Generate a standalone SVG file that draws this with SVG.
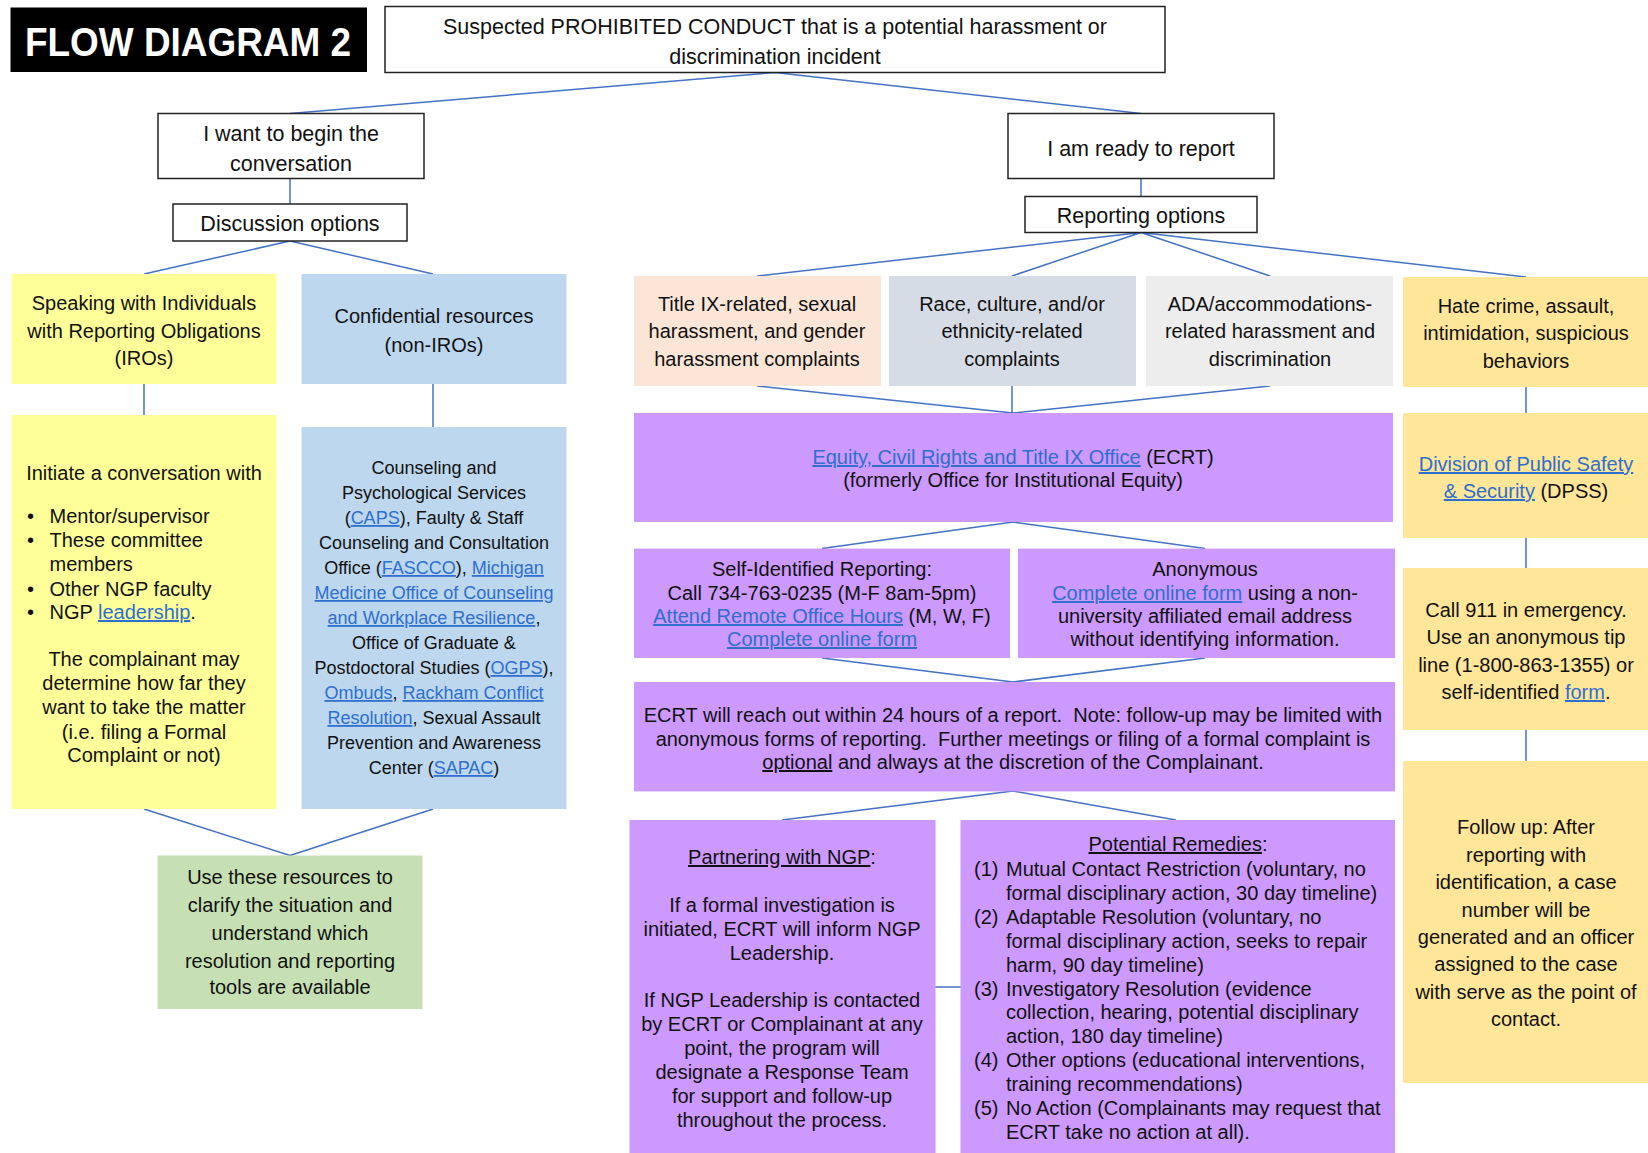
<svg xmlns="http://www.w3.org/2000/svg" width="1648" height="1153" viewBox="0 0 1648 1153">
<style>
text{font-family:"Liberation Sans",Arial,sans-serif;font-size:20px;fill:#111;text-anchor:middle}
.h{font-size:21.5px}
.s{font-size:18px}
.lft{text-anchor:start}
.l{fill:#2e6fd0;text-decoration:underline}
.u{text-decoration:underline}
.c{stroke:#4472c4;stroke-width:1.5;fill:none}
.bx{fill:#fff;stroke:#222;stroke-width:1.5}
.yel{fill:#ffff99}.blu{fill:#bdd7ee}.grn{fill:#c6e0b4}.pch{fill:#fbe5d6}.gry{fill:#d6dce5}.lgr{fill:#ededed}.gld{fill:#ffe699}.pur{fill:#cc99ff}
</style>
<rect width="1648" height="1153" fill="#fff"/>
<g id="connectors">
<path class="c" d="M775,72.5L290,113.5M775,72.5L1141,113.5"/>
<path class="c" d="M290,179V204M290,241L144,274M290,241L433,274M144,384V415M433,384V427M144,809L290,855.5M433,809L290,855.5"/>
<path class="c" d="M1141,179V196.5M1141,232.5L757,276M1141,232.5L1012,276M1141,232.5L1270,276M1141,232.5L1526,277"/>
<path class="c" d="M757,386L1013,413M1012,386V413M1270,386L1013,413"/>
<path class="c" d="M1013,522L822,548.6M1013,522L1205,548.6M822,658L1013,682M1205,658L1013,682"/>
<path class="c" d="M1013,791L782,820M1013,791L1176,820M935,987H961"/>
<path class="c" d="M1526,387V413M1526,538V568M1526,730V761"/>
</g>
<g id="title">
<rect x="10.5" y="7.5" width="356.5" height="64.5" fill="#000"/>
<text x="188" y="56" style="font-size:41px;font-weight:bold;fill:#fff" textLength="326" lengthAdjust="spacingAndGlyphs">FLOW DIAGRAM 2</text>
</g>
<g id="n-suspected">
<rect class="bx" x="385" y="6.5" width="780" height="66"/>
<text class="h" x="775" y="34">Suspected PROHIBITED CONDUCT that is a potential harassment or</text>
<text class="h" x="775" y="64">discrimination incident</text>
</g>
<g id="n-begin">
<rect class="bx" x="158" y="113.5" width="266" height="65"/>
<text class="h" x="291" y="141">I want to begin the</text>
<text class="h" x="291" y="171">conversation</text>
</g>
<g id="n-discussion">
<rect class="bx" x="173" y="204" width="234" height="37"/>
<text class="h" x="290" y="231">Discussion options</text>
</g>
<g id="n-ready">
<rect class="bx" x="1008" y="113.5" width="266" height="65"/>
<text class="h" x="1141" y="156">I am ready to report</text>
</g>
<g id="n-reporting">
<rect class="bx" x="1025" y="196.5" width="232" height="36"/>
<text class="h" x="1141" y="223">Reporting options</text>
</g>
<g id="n-iros">
<rect class="yel" x="11.5" y="274" width="265" height="110"/>
<text x="144" y="309.5">Speaking with Individuals</text>
<text x="144" y="338">with Reporting Obligations</text>
<text x="144" y="365">(IROs)</text>
</g>
<g id="n-confidential">
<rect class="blu" x="301.5" y="274" width="265" height="110"/>
<text x="434" y="323">Confidential resources</text>
<text x="434" y="352">(non-IROs)</text>
</g>
<g id="n-initiate">
<rect class="yel" x="11.5" y="415" width="265" height="394"/>
<text x="144" y="480">Initiate a conversation with</text>
<text class="lft" x="27" y="523">•</text><text class="lft" x="49.5" y="523">Mentor/supervisor</text>
<text class="lft" x="27" y="547">•</text><text class="lft" x="49.5" y="547">These committee</text>
<text class="lft" x="49.5" y="571">members</text>
<text class="lft" x="27" y="595.5">•</text><text class="lft" x="49.5" y="595.5">Other NGP faculty</text>
<text class="lft" x="27" y="619">•</text><text class="lft" x="49.5" y="619">NGP <tspan class="l">leadership</tspan>.</text>
<text x="144" y="666">The complainant may</text>
<text x="144" y="690">determine how far they</text>
<text x="144" y="714">want to take the matter</text>
<text x="144" y="738.5">(i.e. filing a Formal</text>
<text x="144" y="762">Complaint or not)</text>
</g>
<g id="n-counseling">
<rect class="blu" x="301.5" y="427" width="265" height="382"/>
<text class="s" x="434" y="474">Counseling and</text>
<text class="s" x="434" y="499">Psychological Services</text>
<text class="s" x="434" y="524">(<tspan class="l">CAPS</tspan>), Faulty &amp; Staff</text>
<text class="s" x="434" y="549">Counseling and Consultation</text>
<text class="s" x="434" y="574">Office (<tspan class="l">FASCCO</tspan>), <tspan class="l">Michigan</tspan></text>
<text class="s" x="434" y="599"><tspan class="l">Medicine Office of Counseling</tspan></text>
<text class="s" x="434" y="624"><tspan class="l">and Workplace Resilience</tspan>,</text>
<text class="s" x="434" y="649">Office of Graduate &amp;</text>
<text class="s" x="434" y="674">Postdoctoral Studies (<tspan class="l">OGPS</tspan>),</text>
<text class="s" x="434" y="699"><tspan class="l">Ombuds</tspan>, <tspan class="l">Rackham Conflict</tspan></text>
<text class="s" x="434" y="724"><tspan class="l">Resolution</tspan>, Sexual Assault</text>
<text class="s" x="434" y="749">Prevention and Awareness</text>
<text class="s" x="434" y="774">Center (<tspan class="l">SAPAC</tspan>)</text>
</g>
<g id="n-use">
<rect class="grn" x="157.5" y="855.5" width="265" height="153.5"/>
<text x="290" y="884">Use these resources to</text>
<text x="290" y="912">clarify the situation and</text>
<text x="290" y="940">understand which</text>
<text x="290" y="968">resolution and reporting</text>
<text x="290" y="994">tools are available</text>
</g>
<g id="n-titleix">
<rect class="pch" x="634" y="276" width="247" height="110"/>
<text x="757" y="311">Title IX-related, sexual</text>
<text x="757" y="338">harassment, and gender</text>
<text x="757" y="366">harassment complaints</text>
</g>
<g id="n-race">
<rect class="gry" x="889" y="276" width="247" height="110"/>
<text x="1012" y="311">Race, culture, and/or</text>
<text x="1012" y="338">ethnicity-related</text>
<text x="1012" y="366">complaints</text>
</g>
<g id="n-ada">
<rect class="lgr" x="1146" y="276" width="247" height="110"/>
<text x="1270" y="311">ADA/accommodations-</text>
<text x="1270" y="338">related harassment and</text>
<text x="1270" y="366">discrimination</text>
</g>
<g id="n-hate">
<rect class="gld" x="1403" y="277" width="245" height="110"/>
<text x="1526" y="313">Hate crime, assault,</text>
<text x="1526" y="340">intimidation, suspicious</text>
<text x="1526" y="368">behaviors</text>
</g>
<g id="n-ecrt">
<rect class="pur" x="634" y="413" width="759" height="109"/>
<text x="1013" y="464"><tspan class="l">Equity, Civil Rights and Title IX Office</tspan> (ECRT)</text>
<text x="1013" y="487">(formerly Office for Institutional Equity)</text>
</g>
<g id="n-self">
<rect class="pur" x="634" y="548.6" width="376" height="109.4"/>
<text x="822" y="576">Self-Identified Reporting:</text>
<text x="822" y="600">Call 734-763-0235 (M-F 8am-5pm)</text>
<text x="822" y="623"><tspan class="l">Attend Remote Office Hours</tspan> (M, W, F)</text>
<text x="822" y="646"><tspan class="l">Complete online form</tspan></text>
</g>
<g id="n-anon">
<rect class="pur" x="1018" y="548.6" width="377" height="109.4"/>
<text x="1205" y="576">Anonymous</text>
<text x="1205" y="600"><tspan class="l">Complete online form</tspan> using a non-</text>
<text x="1205" y="623">university affiliated email address</text>
<text x="1205" y="646">without identifying information.</text>
</g>
<g id="n-followup">
<rect class="pur" x="634" y="682" width="761" height="109.4"/>
<text x="1013" y="722" xml:space="preserve">ECRT will reach out within 24 hours of a report.  Note: follow-up may be limited with</text>
<text x="1013" y="746" xml:space="preserve">anonymous forms of reporting.  Further meetings or filing of a formal complaint is</text>
<text x="1013" y="769"><tspan class="u">optional</tspan> and always at the discretion of the Complainant.</text>
</g>
<g id="n-partnering">
<rect class="pur" x="629.5" y="820" width="306" height="333"/>
<text x="782" y="864"><tspan class="u">Partnering with NGP</tspan>:</text>
<text x="782" y="912">If a formal investigation is</text>
<text x="782" y="936">initiated, ECRT will inform NGP</text>
<text x="782" y="960">Leadership.</text>
<text x="782" y="1007">If NGP Leadership is contacted</text>
<text x="782" y="1031">by ECRT or Complainant at any</text>
<text x="782" y="1055">point, the program will</text>
<text x="782" y="1079">designate a Response Team</text>
<text x="782" y="1103">for support and follow-up</text>
<text x="782" y="1127">throughout the process.</text>
</g>
<g id="n-remedies">
<rect class="pur" x="960.5" y="820" width="434.5" height="333"/>
<text x="1178" y="851"><tspan class="u">Potential Remedies</tspan>:</text>
<text class="lft" x="974" y="876">(1)</text><text class="lft" x="1006" y="876">Mutual Contact Restriction (voluntary, no</text>
<text class="lft" x="1006" y="900">formal disciplinary action, 30 day timeline)</text>
<text class="lft" x="974" y="924">(2)</text><text class="lft" x="1006" y="924">Adaptable Resolution (voluntary, no</text>
<text class="lft" x="1006" y="948">formal disciplinary action, seeks to repair</text>
<text class="lft" x="1006" y="972">harm, 90 day timeline)</text>
<text class="lft" x="974" y="996">(3)</text><text class="lft" x="1006" y="996">Investigatory Resolution (evidence</text>
<text class="lft" x="1006" y="1019">collection, hearing, potential disciplinary</text>
<text class="lft" x="1006" y="1043">action, 180 day timeline)</text>
<text class="lft" x="974" y="1067">(4)</text><text class="lft" x="1006" y="1067">Other options (educational interventions,</text>
<text class="lft" x="1006" y="1091">training recommendations)</text>
<text class="lft" x="974" y="1115">(5)</text><text class="lft" x="1006" y="1115">No Action (Complainants may request that</text>
<text class="lft" x="1006" y="1139">ECRT take no action at all).</text>
</g>
<g id="n-dpss">
<rect class="gld" x="1403" y="413" width="245" height="125"/>
<text x="1526" y="471"><tspan class="l">Division of Public Safety</tspan></text>
<text x="1526" y="498"><tspan class="l">&amp; Security</tspan> (DPSS)</text>
</g>
<g id="n-call911">
<rect class="gld" x="1403" y="568" width="245" height="162"/>
<text x="1526" y="617">Call 911 in emergency.</text>
<text x="1526" y="644">Use an anonymous tip</text>
<text x="1526" y="672">line (1-800-863-1355) or</text>
<text x="1526" y="699">self-identified <tspan class="l">form</tspan>.</text>
</g>
<g id="n-followup-dpss">
<rect class="gld" x="1403" y="761" width="245" height="322"/>
<text x="1526" y="834">Follow up: After</text>
<text x="1526" y="862">reporting with</text>
<text x="1526" y="889">identification, a case</text>
<text x="1526" y="917">number will be</text>
<text x="1526" y="944">generated and an officer</text>
<text x="1526" y="971">assigned to the case</text>
<text x="1526" y="999">with serve as the point of</text>
<text x="1526" y="1026">contact.</text>
</g>
</svg>
